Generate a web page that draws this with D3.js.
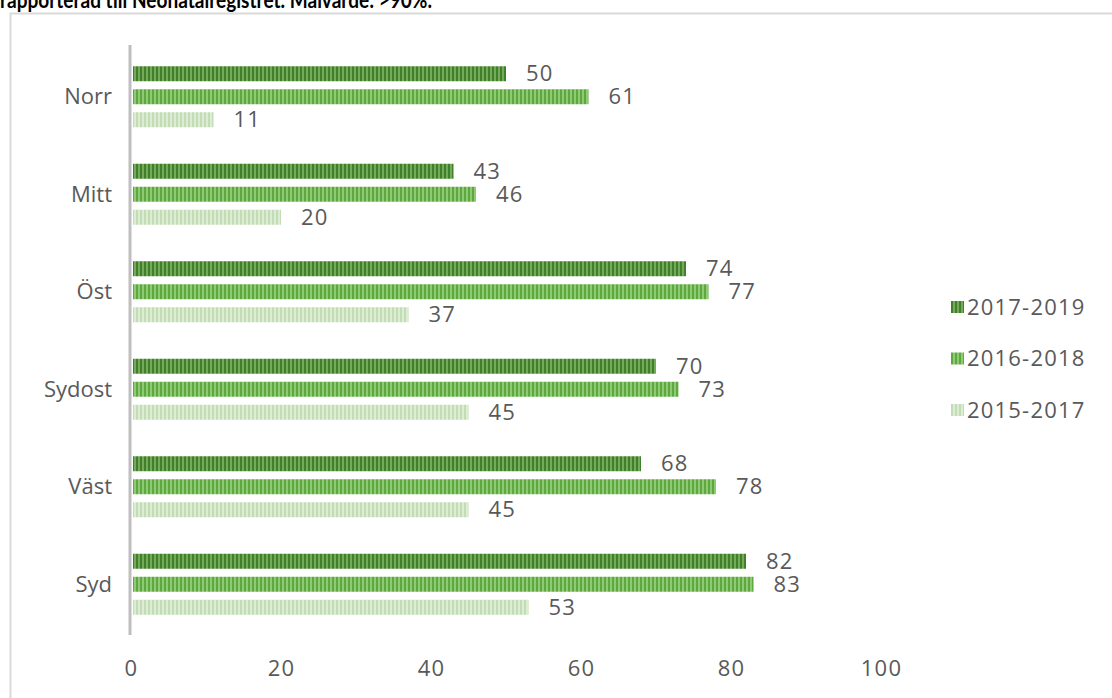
<!DOCTYPE html>
<html>
<head>
<meta charset="utf-8">
<script src="https://cdn.jsdelivr.net/npm/d3@7/dist/d3.min.js"></script>
<style>
  html, body { margin: 0; padding: 0; background: #ffffff; }
  svg { display: block; }
</style>
</head>
<body>
<svg id="chart" width="1112" height="698"></svg>
<script>
// Regions and the three rolling periods
const categories = ["Norr", "Mitt", "Öst", "Sydost", "Väst", "Syd"];
const seriesNames = ["2017-2019", "2016-2018", "2015-2017"];
const values20172019 = [50, 43, 74, 70, 68, 82];
const values20162018 = [61, 46, 77, 73, 78, 83];
const values20152017 = [11, 20, 37, 45, 45, 53];
const xTicks = [0, 20, 40, 60, 80, 100];
const titleText = "rapporterad till Neonatalregistret. Målvärde: >90%.";

const seriesValues = [values20172019, values20162018, values20152017];

// Striped fills: [dark stripe, light stripe]
const stripeColors = [
  ["#41802a", "#74aa59"],
  ["#5ea83f", "#8fca74"],
  ["#c2ddb5", "#dcedd3"]
];

const svg = d3.select("#chart");
const textColor = "#595959";
const fontFamily = "'Open Sans', 'Noto Sans', sans-serif";

const defs = svg.append("defs");
stripeColors.forEach((c, i) => {
  const p = defs.append("pattern")
    .attr("id", "stripe" + i)
    .attr("patternUnits", "userSpaceOnUse")
    .attr("width", 4).attr("height", 10);
  p.append("rect").attr("x", 0).attr("y", 0).attr("width", 2).attr("height", 10).attr("fill", c[0]);
  p.append("rect").attr("x", 2).attr("y", 0).attr("width", 2).attr("height", 10).attr("fill", c[1]);
});

// Title line above the chart frame
svg.append("text")
  .attr("x", 0).attr("y", 8)
  .attr("font-family", "Lato, 'Liberation Sans', sans-serif")
  .attr("font-weight", 700)
  .attr("font-size", 23)
  .attr("textLength", 432)
  .attr("lengthAdjust", "spacingAndGlyphs")
  .attr("fill", "#000000")
  .text(titleText);

// Chart frame
svg.append("rect")
  .attr("x", 10.5).attr("y", 13.5)
  .attr("width", 1200).attr("height", 800)
  .attr("fill", "#ffffff")
  .attr("stroke", "#d9d9d9")
  .attr("stroke-width", 2);

// Scales
const x = d3.scaleLinear().domain([0, 100]).range([131, 881]);
const y = d3.scaleBand().domain(categories).range([48, 633]).padding(0);
const ySub = d3.scaleBand().domain(seriesNames).range([-30.5, 30.5]).paddingInner(8 / 23).paddingOuter(0);

// Bars
const groups = svg.append("g").selectAll("g")
  .data(categories)
  .join("g")
  .attr("transform", d => `translate(0,${y(d) + y.bandwidth() / 2})`);

seriesNames.forEach((s, si) => {
  groups.append("rect")
    .attr("x", x(0) + 2)
    .attr("y", ySub(s))
    .attr("width", (d, ci) => x(seriesValues[si][ci]) - x(0) - 2)
    .attr("height", ySub.bandwidth())
    .attr("fill", `url(#stripe${si})`);

  groups.append("text")
    .attr("x", (d, ci) => x(seriesValues[si][ci]) + 20)
    .attr("y", ySub(s) + ySub.bandwidth() / 2)
    .attr("dy", "0.35em")
    .attr("font-family", fontFamily)
    .attr("font-size", 22)
    .attr("letter-spacing", 1.2)
    .attr("fill", textColor)
    .text((d, ci) => seriesValues[si][ci]);
});

// Vertical category axis line
svg.append("line")
  .attr("x1", 130).attr("x2", 130)
  .attr("y1", 45).attr("y2", 635)
  .attr("stroke", "#bfbfbf")
  .attr("stroke-width", 3);

// Category labels
const yAxis = svg.append("g")
  .attr("transform", "translate(112,0)")
  .call(d3.axisLeft(y).tickSize(0).tickPadding(0));
yAxis.select(".domain").remove();
yAxis.selectAll("text")
  .attr("font-family", fontFamily)
  .attr("font-size", 22)
  .attr("fill", textColor)
  .attr("dy", "0.35em");

// Value axis labels
const xAxis = svg.append("g")
  .attr("transform", "translate(0,660)")
  .call(d3.axisBottom(x).tickValues(xTicks).tickSize(0).tickPadding(0));
xAxis.select(".domain").remove();
xAxis.selectAll("text")
  .attr("font-family", fontFamily)
  .attr("font-size", 22)
  .attr("letter-spacing", 1.2)
  .attr("fill", textColor)
  .attr("dy", "0.71em");

// Legend
const legend = svg.append("g").selectAll("g")
  .data(seriesNames)
  .join("g")
  .attr("transform", (d, i) => `translate(951,${307 + i * 51.5})`);
legend.append("rect")
  .attr("x", 0).attr("y", -6)
  .attr("width", 13).attr("height", 12)
  .attr("fill", (d, i) => `url(#stripe${i})`);
legend.append("text")
  .attr("x", 16).attr("y", 0)
  .attr("dy", "0.35em")
  .attr("font-family", fontFamily)
  .attr("font-size", 22)
  .attr("letter-spacing", 1.2)
  .attr("fill", textColor)
  .text(d => d);
</script>
</body>
</html>
